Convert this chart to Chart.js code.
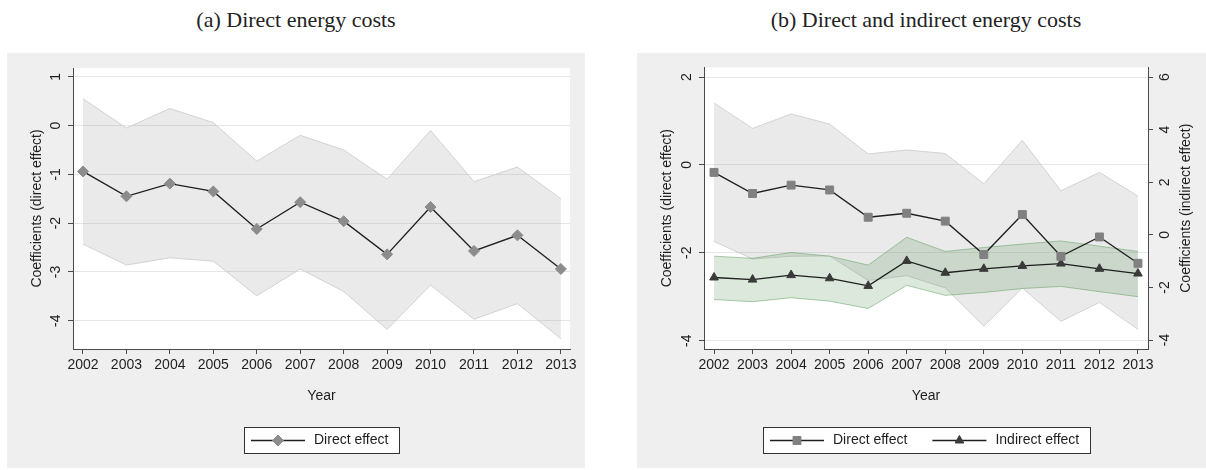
<!DOCTYPE html>
<html>
<head>
<meta charset="utf-8">
<script src="https://cdn.jsdelivr.net/npm/chart.js@4.4.1/dist/chart.umd.min.js"></script>
<style>
  body { margin: 0; width: 1206px; height: 470px; overflow: hidden; background: #fff; position: relative; }
  .title { position: absolute; top: 7px; width: 578px; text-align: center; font-family: "Liberation Serif", serif; font-size: 22px; color: #222; }
  .panel { position: absolute; top: 53px; width: 578px; height: 415px; background: #efefef; }
  canvas { display: block; }
</style>
</head>
<body>
<div class="title" style="left:7px">(a) Direct energy costs</div>
<div class="title" style="left:637px">(b) Direct and indirect energy costs</div>
<div class="panel" style="left:7px"><canvas id="chartA" width="578" height="415"></canvas></div>
<div class="panel" style="left:637px"><canvas id="chartB" width="578" height="415"></canvas></div>

<script>
// years on the x axis
const years = [2002, 2003, 2004, 2005, 2006, 2007, 2008, 2009, 2010, 2011, 2012, 2013];

// panel (a): direct energy costs only
const directA   = [-0.94, -1.45, -1.19, -1.35, -2.12, -1.57, -1.96, -2.64, -1.67, -2.57, -2.25, -2.94];
const directAHi = [0.55, -0.05, 0.35, 0.06, -0.73, -0.20, -0.50, -1.10, -0.10, -1.15, -0.85, -1.50];
const directALo = [-2.43, -2.86, -2.71, -2.78, -3.49, -2.94, -3.40, -4.18, -3.27, -3.97, -3.65, -4.37];
const ticksA = [-4, -3, -2, -1, 0, 1];

// panel (b): direct (left axis) and indirect (right axis)
const directB   = [-0.17, -0.65, -0.46, -0.57, -1.19, -1.10, -1.28, -2.04, -1.13, -2.08, -1.64, -2.24];
const directBHi = [1.41, 0.83, 1.16, 0.93, 0.25, 0.34, 0.26, -0.43, 0.56, -0.59, -0.17, -0.71];
const directBLo = [-1.74, -2.14, -2.08, -2.07, -2.63, -2.52, -2.80, -3.67, -2.80, -3.56, -3.13, -3.74];
const indirect   = [-1.62, -1.70, -1.53, -1.65, -1.94, -0.99, -1.44, -1.29, -1.18, -1.09, -1.29, -1.47];
const indirectHi = [-0.81, -0.89, -0.67, -0.81, -1.15, -0.09, -0.63, -0.48, -0.35, -0.23, -0.43, -0.63];
const indirectLo = [-2.46, -2.54, -2.39, -2.52, -2.80, -1.92, -2.30, -2.19, -2.04, -1.96, -2.16, -2.35];
const ticksBLeft = [-4, -2, 0, 2];
const ticksBRight = [-4, -2, 0, 2, 4, 6];

const FONT = { family: '"Liberation Sans", Arial, sans-serif', size: 14 };
const TEXT = '#1e1e1e';
const AXIS = '#4a4a4a';
const GRID = '#e6e6e6';
const LINE = '#1e1e1e';

// white plot region inside the grey graph region
const plotBg = {
  id: 'plotBg',
  beforeDraw(chart) {
    const { ctx, chartArea: a } = chart;
    ctx.save();
    ctx.fillStyle = '#fff';
    ctx.fillRect(a.left, a.top, a.right - a.left, a.bottom - a.top);
    ctx.restore();
  }
};

// boxed legend under the x axis: line with marker, then label
const boxLegend = {
  id: 'boxLegend',
  afterDraw(chart, args, opts) {
    if (!opts.items) return;
    const { ctx, chartArea: a } = chart;
    ctx.save();
    ctx.font = FONT.size + 'px ' + FONT.family;
    const sets = opts.items.map(i => chart.data.datasets[i]);
    const widths = sets.map(d => ctx.measureText(d.label).width);
    const w = Math.round(7 + widths.reduce((s, t) => s + 54 + 9 + t, 0) + 25 * (sets.length - 1) + 11);
    const h = 26;
    const x0 = Math.round((a.left + a.right) / 2 - w / 2);
    const y0 = Math.round(a.bottom + opts.offset);
    ctx.fillStyle = '#fff';
    ctx.fillRect(x0, y0, w, h);
    ctx.strokeStyle = '#333';
    ctx.lineWidth = 1;
    ctx.strokeRect(x0 + 0.5, y0 + 0.5, w, h);
    const cy = y0 + h / 2 + 0.5;
    let x = x0 + 7;
    sets.forEach((d, k) => {
      ctx.strokeStyle = d.borderColor;
      ctx.lineWidth = d.borderWidth;
      ctx.beginPath();
      ctx.moveTo(x, cy);
      ctx.lineTo(x + 54, cy);
      ctx.stroke();
      ctx.fillStyle = d.pointBackgroundColor;
      ctx.strokeStyle = d.pointBorderColor;
      ctx.lineWidth = 1;
      Chart.helpers.drawPoint(ctx, { pointStyle: d.pointStyle, radius: d.pointRadius, borderWidth: 1, rotation: 0 }, x + 27, cy);
      ctx.fillStyle = TEXT;
      ctx.textBaseline = 'middle';
      ctx.textAlign = 'left';
      ctx.fillText(d.label, x + 63, cy);
      x += 54 + 9 + widths[k] + 25;
    });
    ctx.restore();
  }
};

// right-hand axis title, rotated to read bottom to top like the left one
const rightTitle = {
  id: 'rightTitle',
  afterDraw(chart) {
    const s = chart.scales.y2;
    if (!s) return;
    const { ctx, chartArea: a } = chart;
    ctx.save();
    ctx.font = FONT.size + 'px ' + FONT.family;
    ctx.fillStyle = TEXT;
    ctx.textAlign = 'center';
    ctx.textBaseline = 'middle';
    ctx.translate(s.right - 29, (a.top + a.bottom) / 2);
    ctx.rotate(-Math.PI / 2);
    ctx.fillText(s.options.title.text, 0, 0);
    ctx.restore();
  }
};

function xScale(min, max) {
  return {
    type: 'linear', min: min, max: max,
    afterBuildTicks: s => { s.ticks = years.map(v => ({ value: v })); },
    afterFit: s => { s.height = 56; },
    grid: { drawOnChartArea: false, tickLength: 5, tickColor: AXIS },
    border: { color: AXIS },
    ticks: { font: FONT, color: TEXT, padding: 3, maxRotation: 0, autoSkip: false, callback: v => String(v) },
    title: { display: true, text: 'Year', font: FONT, color: TEXT, padding: { top: 0, bottom: 0 } }
  };
}

function yScale(min, max, tickVals, width, title, position, onChart) {
  return {
    type: 'linear', position: position, min: min, max: max,
    afterBuildTicks: s => { s.ticks = tickVals.map(v => ({ value: v })); },
    afterFit: s => { s.width = width; },
    grid: { drawOnChartArea: onChart, color: GRID, tickLength: 5, tickColor: AXIS },
    border: { color: AXIS },
    ticks: { font: FONT, color: TEXT, padding: 6, minRotation: 90, maxRotation: 90, crossAlign: 'center' },
    title: { display: position === 'left', text: title, font: FONT, color: TEXT, padding: { top: 22, bottom: 0 } }
  };
}

function band(lo, hi, edge, fill, axis, order) {
  return [
    { label: 'lo', data: lo, yAxisID: axis, borderColor: edge, borderWidth: 1, pointRadius: 0, fill: false, order: order },
    { label: 'hi', data: hi, yAxisID: axis, borderColor: edge, borderWidth: 1, pointRadius: 0, backgroundColor: fill, fill: '-1', order: order }
  ];
}

function series(label, data, style, color, radius, axis) {
  return {
    label: label, data: data, yAxisID: axis, borderColor: LINE, borderWidth: 1.3,
    pointStyle: style, pointRadius: radius, pointBackgroundColor: color, pointBorderColor: color,
    pointBorderWidth: 1, fill: false, order: 1
  };
}

const grayEdge = '#d3d3d3', grayFill = 'rgba(150,150,150,0.2)';
const greenEdge = 'rgba(90,155,90,0.5)', greenFill = 'rgba(75,140,75,0.2)';

new Chart(document.getElementById('chartA'), {
  type: 'line',
  data: {
    labels: years,
    datasets: [
      ...band(directALo, directAHi, grayEdge, grayFill, 'y', 3),
      series('Direct effect', directA, 'rectRot', '#8c8c8c', 5.5, 'y')
    ]
  },
  options: {
    responsive: false, animation: false, events: [],
    layout: { padding: { left: 0, top: 15, right: 15, bottom: 63 } },
    scales: {
      x: xScale(2001.77, 2013.21),
      y: yScale(-4.58, 1.18, ticksA, 66, 'Coefficients (direct effect)', 'left', true)
    },
    plugins: { legend: { display: false }, tooltip: { enabled: false }, boxLegend: { items: [2], offset: 78 } }
  },
  plugins: [plotBg, boxLegend]
});

new Chart(document.getElementById('chartB'), {
  type: 'line',
  data: {
    labels: years,
    datasets: [
      ...band(directBLo, directBHi, grayEdge, grayFill, 'y', 4),
      ...band(indirectLo, indirectHi, greenEdge, greenFill, 'y2', 3),
      series('Direct effect', directB, 'rect', '#808080', 5.6, 'y'),
      series('Indirect effect', indirect, 'triangle', '#3a3a3a', 5, 'y2')
    ]
  },
  options: {
    responsive: false, animation: false, events: [],
    layout: { padding: { left: 0, top: 14, right: 0, bottom: 63 } },
    scales: {
      x: xScale(2001.74, 2013.26),
      y: yScale(-4.19, 2.22, ticksBLeft, 67, 'Coefficients (direct effect)', 'left', true),
      y2: yScale(-4.34, 6.37, ticksBRight, 67, 'Coefficients (indirect effect)', 'right', false)
    },
    plugins: { legend: { display: false }, tooltip: { enabled: false }, boxLegend: { items: [4, 5], offset: 78 } }
  },
  plugins: [plotBg, boxLegend, rightTitle]
});
</script>
</body>
</html>
